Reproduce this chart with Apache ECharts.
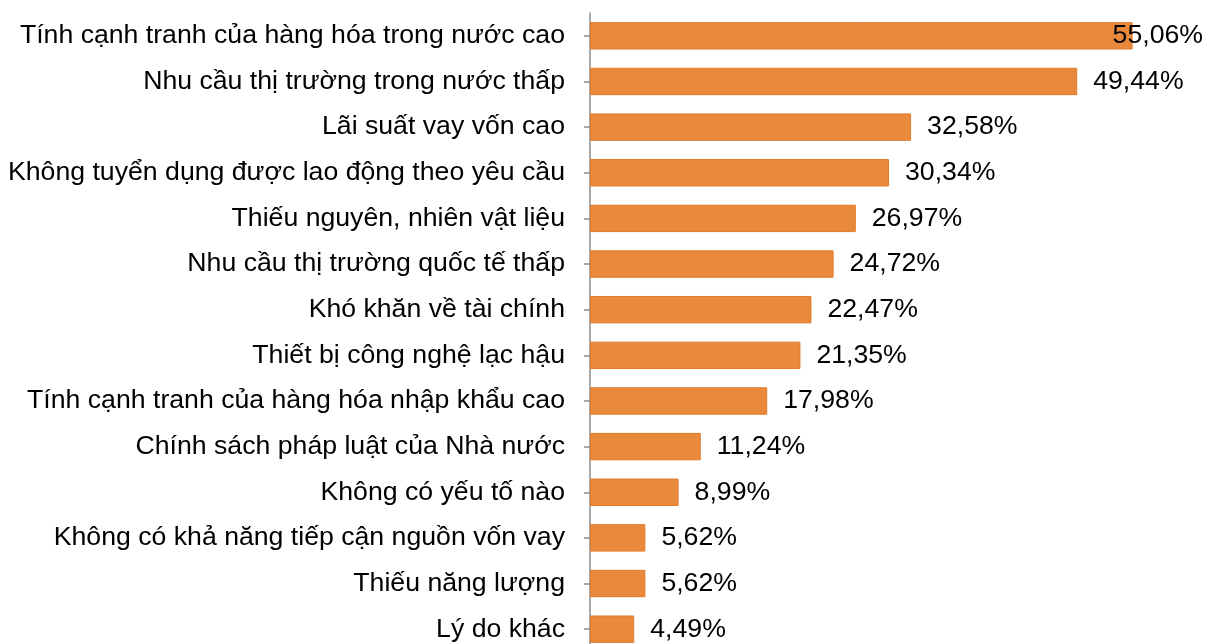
<!DOCTYPE html>
<html>
<head>
<meta charset="utf-8">
<script src="https://cdn.jsdelivr.net/npm/echarts@6/dist/echarts.min.js"></script>
<style>
  html, body { margin: 0; padding: 0; background: #fff; overflow: hidden; }
  /* khung cao hơn cửa sổ: thanh cuối bị cắt như bản gốc */
  #chart { width: 1206px; height: 652px; }
</style>
</head>
<body>
<div id="chart"></div>
<script>
// danh mục (từ trên xuống)
const categories = [
  'Tính cạnh tranh của hàng hóa trong nước cao',
  'Nhu cầu thị trường trong nước thấp',
  'Lãi suất vay vốn cao',
  'Không tuyển dụng được lao động theo yêu cầu',
  'Thiếu nguyên, nhiên vật liệu',
  'Nhu cầu thị trường quốc tế thấp',
  'Khó khăn về tài chính',
  'Thiết bị công nghệ lạc hậu',
  'Tính cạnh tranh của hàng hóa nhập khẩu cao',
  'Chính sách pháp luật của Nhà nước',
  'Không có yếu tố nào',
  'Không có khả năng tiếp cận nguồn vốn vay',
  'Thiếu năng lượng',
  'Lý do khác'
];
const values = [55.06, 49.44, 32.58, 30.34, 26.97, 24.72, 22.47, 21.35, 17.98, 11.24, 8.99, 5.62, 5.62, 4.49];

const chart = echarts.init(document.getElementById('chart'));

const seriesData = values.map((v, i) => {
  const item = { value: v };
  // nhãn đầu tiên bị đẩy vào trong thanh
  if (i === 0) item.label = { offset: [-36, 0] };
  return item;
});

chart.setOption({
  animation: false,
  grid: {
    left: 590,
    right: 5,
    top: 13,
    bottom: 0
  },
  xAxis: {
    type: 'value',
    min: 0,
    max: 62,
    show: false
  },
  yAxis: {
    type: 'category',
    inverse: true,
    data: categories,
    axisLine: {
      show: true,
      lineStyle: { color: '#8c8c8c', width: 1.5 }
    },
    axisTick: {
      show: true,
      alignWithLabel: true,
      length: 6,
      lineStyle: { color: '#8c8c8c', width: 1.5 }
    },
    axisLabel: {
      margin: 25,
      color: '#000',
      fontFamily: 'Liberation Sans, Arial, sans-serif',
      fontSize: 26.67
    }
  },
  series: [{
    type: 'bar',
    data: seriesData,
    barCategoryGap: '40%',
    itemStyle: {
      color: '#E8893C',
      borderColor: '#E27A2A',
      borderWidth: 1
    },
    label: {
      show: true,
      position: 'right',
      distance: 16,
      color: '#000',
      fontFamily: 'Liberation Sans, Arial, sans-serif',
      fontSize: 26.67,
      formatter: p => p.value.toFixed(2).replace('.', ',') + '%'
    }
  }]
});
</script>
</body>
</html>
